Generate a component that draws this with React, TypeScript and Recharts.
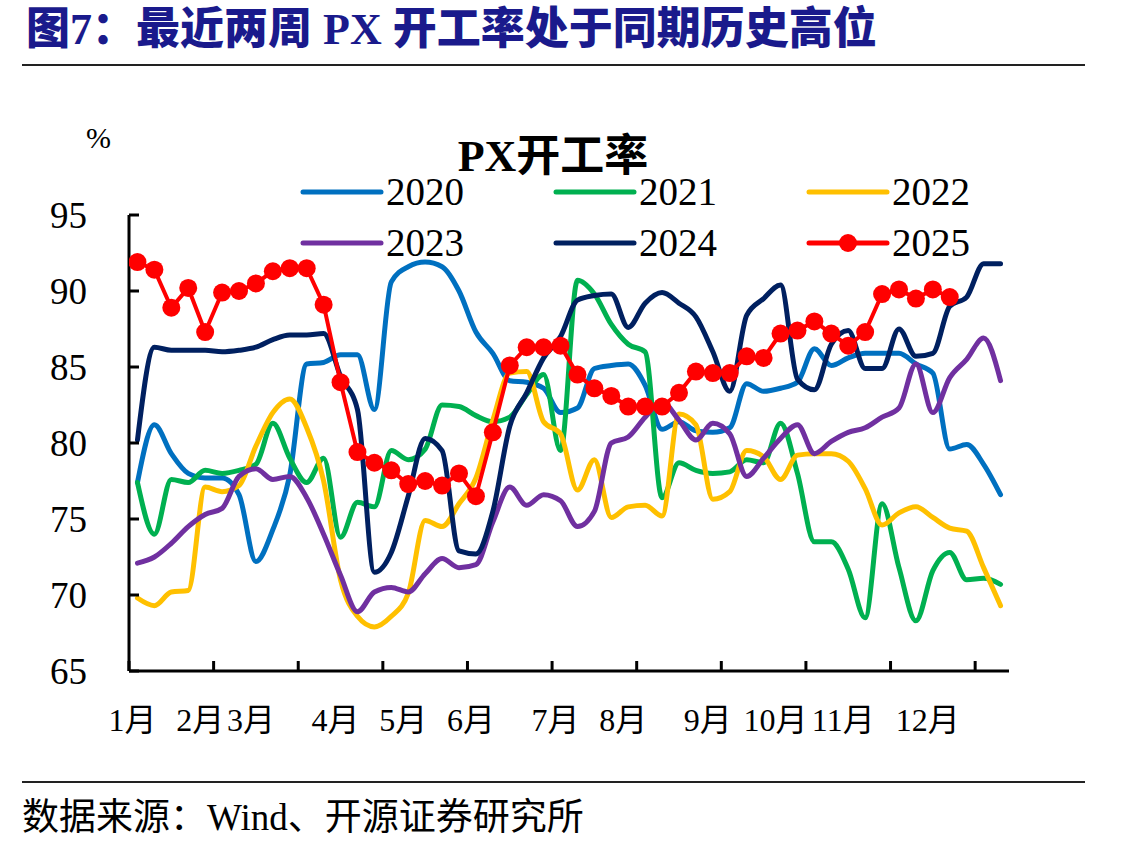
import React from 'react';
import { LineChart, Line, XAxis, YAxis } from 'recharts';

// Weekly PX operating rate (%), one array per year, 52 weeks
const weekCount = 52;

const v2020 = [
  77.4, 81.2, 79.3, 78.0, 77.7, 77.7, 76.6, 72.2, 74.3, 77.9,
  85.2, 85.3, 85.8, 85.8, 82.2, 90.6, 91.6, 91.9, 91.6, 90.0,
  87.3, 85.9, 84.1, 84.0, 83.6, 82.0, 82.3, 84.9, 85.1, 85.2,
  83.8, 80.9, 81.4, 80.8, 80.7, 81.0, 83.9, 83.4, 83.6, 84.0,
  86.2, 85.1, 85.6, 85.9, 85.9, 85.9, 85.2, 84.6, 79.6, 79.9,
  78.6, 76.6,
];
const v2021 = [
  77.4, 74.0, 77.6, 77.4, 78.2, 78.0, 78.2, 78.6, 81.3, 79.0,
  77.4, 79.0, 73.8, 76.1, 75.8, 79.5, 78.9, 79.6, 82.5, 82.4,
  81.8, 81.4, 81.7, 83.2, 84.5, 79.5, 90.7, 89.8, 87.8, 86.5,
  86.0, 76.4, 78.7, 78.2, 78.0, 78.1, 78.9, 78.7, 81.3, 78.0,
  73.5, 73.5, 71.7, 68.5, 76.0, 71.8, 68.3, 71.6, 72.8, 71.0,
  71.1, 70.7,
];
const v2022 = [
  69.8, 69.3, 70.2, 70.3, 77.1, 76.8, 77.2, 79.8, 82.0, 82.9,
  81.0, 77.5, 71.0, 68.6, 67.9, 68.6, 70.1, 74.9, 74.5, 76.0,
  77.7, 81.5, 84.6, 84.7, 81.4, 80.6, 76.9, 78.9, 75.1, 75.8,
  75.9, 75.2, 81.9, 81.2, 76.3, 76.8, 79.5, 79.1, 77.6, 79.2,
  79.3, 79.3, 78.8, 77.0, 74.6, 75.4, 75.8, 75.1, 74.4, 74.2,
  71.8, 69.3,
];
const v2023 = [
  72.1, 72.5, 73.4, 74.5, 75.3, 75.7, 77.8, 78.3, 77.6, 77.8,
  76.4, 74.0, 71.3, 68.9, 70.2, 70.5, 70.2, 71.4, 72.4, 71.8,
  72.0, 74.8, 77.1, 75.9, 76.6, 76.2, 74.5, 75.5, 80.0, 80.4,
  81.7, 82.7, 81.5, 80.2, 81.3, 80.6, 77.8, 79.0, 80.3, 81.2,
  79.3, 80.1, 80.7, 81.0, 81.7, 82.3, 85.2, 82.0, 84.3, 85.5,
  86.9, 84.1,
];
const v2024 = [
  80.2, 86.3, 86.1, 86.1, 86.1, 86.0, 86.1, 86.3, 86.8, 87.1,
  87.1, 87.2, 84.4, 82.2, 71.5, 72.8, 76.5, 80.3, 79.5, 72.9,
  72.7, 75.5, 81.1, 83.3, 85.6, 87.0, 89.4, 89.7, 89.8, 87.6,
  89.2, 89.9, 89.2, 88.3, 86.0, 83.4, 88.4, 89.5, 90.4, 84.2,
  83.5, 86.5, 87.4, 84.9, 84.9, 87.5, 85.7, 85.9, 89.0, 89.6,
  91.8, 91.8,
];
const v2025 = [
  91.9, 91.4, 88.9, 90.2, 87.3, 89.9, 90.0, 90.5, 91.3, 91.5,
  91.5, 89.1, 84.0, 79.4, 78.7, 78.2, 77.3, 77.5, 77.2, 78.0,
  76.5, 80.7, 85.1, 86.3, 86.3, 86.4, 84.5, 83.6, 83.1, 82.4,
  82.4, 82.4, 83.3, 84.7, 84.6, 84.6, 85.7, 85.6, 87.2, 87.4,
  88.0, 87.2, 86.4, 87.3, 89.8, 90.1, 89.5, 90.1, 89.6,
];

const seriesNames = ['2020', '2021', '2022', '2023', '2024', '2025'];
const seriesColors = ['#0070C0', '#00B050', '#FFC000', '#7030A0', '#002060', '#FF0000'];
const seriesValues = [v2020, v2021, v2022, v2023, v2024, v2025];

// Month labels and the week each month starts on
const monthLabels = ['1月', '2月', '3月', '4月', '5月', '6月', '7月', '8月', '9月', '10月', '11月', '12月'];
const monthStartWeeks = [0, 4, 7, 12, 16, 20, 25, 29, 34, 38, 42, 47];

// Tick marks every five weeks, on the boundaries between weeks
const boundaryTicks = [0, 5, 10, 15, 20, 25, 30, 35, 40, 45, 50];
const yTicks = [65, 70, 75, 80, 85, 90, 95];

const data = Array.from({ length: weekCount }, (_, i) => {
  const row: Record<string, number | null> = { x: i + 0.5 };
  seriesNames.forEach((name, k) => {
    const v = seriesValues[k][i];
    row[name] = v === undefined ? null : v;
  });
  return row;
});

const labelAt = new Map<number, string>();
monthStartWeeks.forEach((w, k) => labelAt.set(w + 0.5, monthLabels[k]));
const xTicks = [...boundaryTicks, ...monthStartWeeks.map((w) => w + 0.5)].sort((a, b) => a - b);

const SERIF = '"Liberation Serif", "Times New Roman", "Noto Sans CJK SC", serif';

const XTick = (props: any) => {
  const { x, y, payload } = props;
  const label = labelAt.get(payload.value);
  if (label) {
    return (
      <text x={x - 5} y={y + 49} textAnchor="middle" dominantBaseline="central"
        fontSize={32} fontFamily={SERIF} fill="#000">{label}</text>
    );
  }
  return <line x1={x} y1={y} x2={x} y2={y - 10} stroke="#000" strokeWidth={3} />;
};

const YTick = (props: any) => {
  const { x, y, payload } = props;
  return (
    <g>
      <line x1={x} y1={y} x2={x + 10} y2={y} stroke="#000" strokeWidth={3} />
      <text x={x - 42} y={y} textAnchor="end" dominantBaseline="central"
        fontSize={37} fontFamily={SERIF} fill="#000">{payload.value}</text>
    </g>
  );
};

const legendColumns = [300, 553, 806];
const legendRows = [192, 243];

export default function App() {
  return (
    <div style={{ position: 'absolute', left: 0, top: 0, width: 1137, height: 849, background: '#fff', fontFamily: SERIF, overflow: 'hidden' }}>
      <div style={{ position: 'absolute', left: 26, top: 3, fontSize: 44, fontWeight: 900, color: '#1a1a8c', whiteSpace: 'nowrap', lineHeight: '54px', fontFamily: '"Liberation Serif", "Noto Sans CJK SC", serif' }}>
        图7：最近两周 PX 开工率处于同期历史高位
      </div>
      <div style={{ position: 'absolute', left: 22, top: 64, width: 1063, height: 2, background: '#222' }} />

      <div style={{ position: 'absolute', left: 86, top: 120, fontSize: 30, whiteSpace: 'nowrap', lineHeight: '36px' }}>%</div>
      <div style={{ position: 'absolute', left: 453, top: 132, width: 200, textAlign: 'center', fontSize: 44, fontWeight: 700, whiteSpace: 'nowrap', lineHeight: '50px' }}>
        PX开工率
      </div>

      {seriesNames.map((name, k) => {
        const cx = legendColumns[k % 3];
        const cy = legendRows[Math.floor(k / 3)];
        return (
          <div key={name} style={{ position: 'absolute', left: cx, top: cy - 25, height: 50, width: 240 }}>
            <svg width={86} height={50} style={{ position: 'absolute', left: 0, top: 0 }}>
              <line x1={3} y1={25} x2={81} y2={25} stroke={seriesColors[k]} strokeWidth={5} strokeLinecap="round" />
              {name === '2025' && <circle cx={42} cy={25} r={9} fill={seriesColors[k]} />}
            </svg>
            <div style={{ position: 'absolute', left: 86, top: 0, fontSize: 39, lineHeight: '50px', whiteSpace: 'nowrap' }}>{name}</div>
          </div>
        );
      })}

      <div style={{ position: 'absolute', left: 0, top: 0 }}>
        <LineChart width={1137} height={849} data={data} margin={{ top: 215, right: 128, bottom: 118, left: 0 }}>
          <XAxis dataKey="x" type="number" domain={[0, weekCount]} ticks={xTicks} interval={0}
            allowDataOverflow height={60} tickSize={0} tickMargin={0} tickLine={false}
            axisLine={{ stroke: '#000', strokeWidth: 3 }} tick={<XTick />} />
          <YAxis type="number" domain={[65, 95]} ticks={yTicks} interval={0} allowDataOverflow
            width={129} tickSize={0} tickMargin={0} tickLine={false}
            axisLine={{ stroke: '#000', strokeWidth: 3 }} tick={<YTick />} />
          {seriesNames.map((name, k) => (
            name === '2025' ? (
              <Line key={name} dataKey={name} type="linear" stroke={seriesColors[k]} strokeWidth={4}
                dot={{ r: 9, fill: seriesColors[k], stroke: seriesColors[k], strokeWidth: 0 }}
                activeDot={false} isAnimationActive={false} connectNulls={false} />
            ) : (
              <Line key={name} dataKey={name} type="monotone" stroke={seriesColors[k]} strokeWidth={5}
                strokeLinecap="round" strokeLinejoin="round"
                dot={false} activeDot={false} isAnimationActive={false} />
            )
          ))}
        </LineChart>
      </div>

      <div style={{ position: 'absolute', left: 22, top: 781, width: 1063, height: 2, background: '#222' }} />
      <div style={{ position: 'absolute', left: 22, top: 796, fontSize: 37, whiteSpace: 'nowrap', lineHeight: '44px' }}>
        数据来源：Wind、开源证券研究所
      </div>
    </div>
  );
}
